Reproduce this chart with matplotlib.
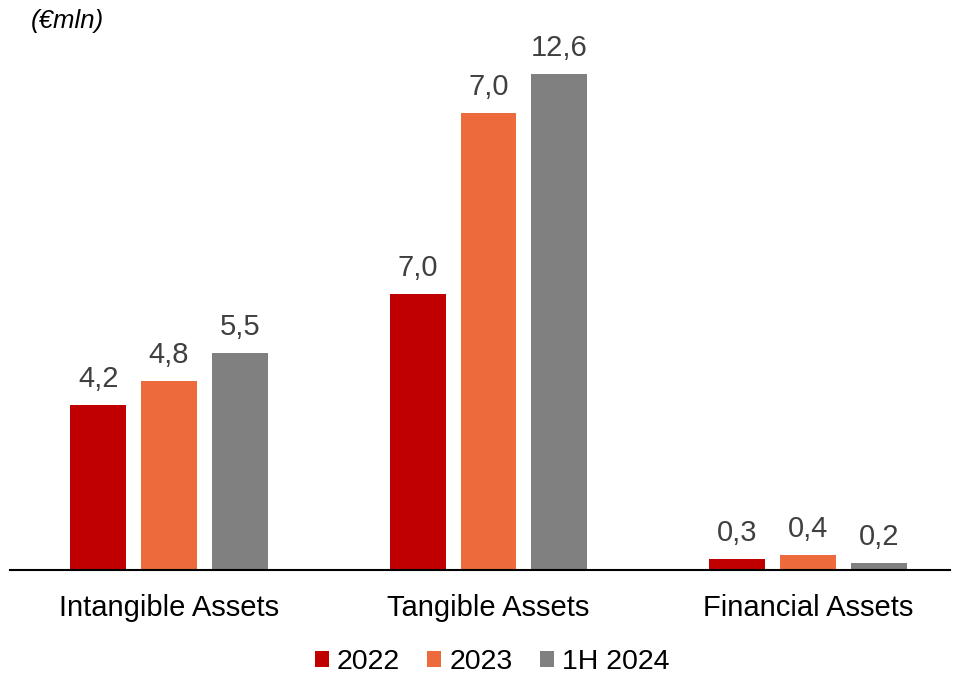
import matplotlib
matplotlib.use("Agg")
import matplotlib.pyplot as plt
import numpy as np

plt.rcParams['font.family'] = ['Liberation Sans', 'DejaVu Sans']

categories = ["Intangible Assets", "Tangible Assets", "Financial Assets"]
series_names = ["2022", "2023", "1H 2024"]
values_2022 = [4.2, 7.0, 0.28]
values_2023 = [4.8, 11.6, 0.38]
values_1h2024 = [5.5, 12.6, 0.18]
labels_2022 = ["4,2", "7,0", "0,3"]
labels_2023 = ["4,8", "7,0", "0,4"]
labels_1h2024 = ["5,5", "12,6", "0,2"]
colors = ["#C00000", "#EC6A3C", "#808080"]

fig = plt.figure(figsize=(9.59, 6.75), dpi=100)
ax = fig.add_axes([10/959, 105/675, 940/959, 540/675])

x = np.arange(len(categories))
width = 0.175
step = 0.222
series = [(values_2022, labels_2022), (values_2023, labels_2023), (values_1h2024, labels_1h2024)]
for i, ((vals, labs), name, c) in enumerate(zip(series, series_names, colors)):
    pos = x + (i - 1) * step
    bars = ax.bar(pos, vals, width, color=c, label=name, zorder=2)
    for b, lab in zip(bars, labs):
        ax.annotate(lab, (b.get_x() + b.get_width() / 2, b.get_height()),
                    xytext=(0, 8.5), textcoords='offset points',
                    ha='center', va='bottom', fontsize=21, color='#404040')

ax.set_xlim(-0.498, 2.445)
ax.set_ylim(0, 540 / 39.4)
for s in ['top', 'right', 'left']:
    ax.spines[s].set_visible(False)
ax.spines['bottom'].set_linewidth(1.5)
ax.spines['bottom'].set_color('black')
ax.set_yticks([])
ax.set_xticks(x)
ax.set_xticklabels(categories, fontsize=21, color='black')
ax.tick_params(axis='x', length=0, pad=17)

fig.text(31/959, 1 - 21/675, "(€mln)", fontsize=18.5, style='italic', va='center', ha='left')

leg = fig.legend(loc='center', bbox_to_anchor=(492/959, 1 - 662/675), ncol=3, frameon=False,
                 fontsize=20.5, handlelength=0.5, handleheight=0.5, handletextpad=0.28,
                 columnspacing=0.95)

fig.savefig("out.png", dpi=100)
